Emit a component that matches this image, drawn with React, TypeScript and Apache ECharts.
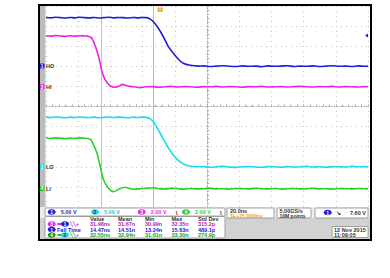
import React, { useEffect, useRef } from "react";
import * as echarts from "echarts";

// time in ns relative to screen center, value in vertical divisions relative to center
const CH1_HO: number[][] = [
  [-100, 4.43], [-97, 4.41], [-94, 4.44], [-91, 4.42], [-88, 4.4], [-85, 4.43], [-82, 4.41], [-79, 4.44],
  [-76, 4.42], [-73, 4.41], [-70, 4.43], [-67, 4.4], [-64, 4.42], [-61, 4.44], [-58, 4.41], [-55, 4.43],
  [-52, 4.42], [-49, 4.4], [-46, 4.43], [-43, 4.41], [-40, 4.43], [-37.5, 4.42],
  [-35.5, 4.36], [-33.3, 4.22], [-30.2, 3.89], [-27.1, 3.47], [-24.0, 2.98], [-20.9, 2.65], [-17.8, 2.35],
  [-14.7, 2.15], [-10.5, 2.05], [-5.4, 2.01],
  [-2, 2.02], [2, 1.99], [6, 2.01], [10, 2.03], [14, 2.0], [18, 1.99], [22, 2.02], [26, 2.0], [30, 2.01],
  [34, 1.98], [38, 2.02], [42, 2.0], [46, 2.01], [50, 2.03], [54, 1.99], [58, 2.01], [62, 2.0], [66, 2.02],
  [70, 1.99], [74, 2.01], [78, 2.03], [82, 2.0], [86, 2.01], [90, 1.99], [94, 2.02], [98, 2.0], [100, 2.01],
];
const CH3_HI: number[][] = [
  [-100, 3.52], [-97, 3.5], [-94, 3.53], [-91, 3.51], [-88, 3.49], [-85, 3.52], [-82, 3.5], [-79, 3.52],
  [-76, 3.51], [-74, 3.5],
  [-72, 3.44], [-70.4, 3.22], [-67.3, 2.48], [-65.2, 1.73], [-63.2, 1.32], [-60.1, 1.02], [-57.0, 0.96],
  [-54.5, 1.02], [-52.8, 1.1], [-50.5, 1.05], [-47.7, 1.0], [-44.5, 0.97], [-41.5, 0.94],
  [-38, 0.98], [-34, 0.99], [-30, 0.96], [-26, 0.98], [-22, 1.0], [-18, 0.97], [-14, 0.99], [-10, 0.98],
  [-6, 0.96], [-2, 0.99], [2, 0.98], [6, 1.0], [10, 0.97], [14, 0.99], [18, 0.98], [22, 0.96], [26, 0.99],
  [30, 0.98], [34, 1.0], [38, 0.97], [42, 0.98], [46, 0.99], [50, 0.97], [54, 0.99], [58, 1.0], [62, 0.98],
  [66, 0.97], [70, 0.99], [74, 0.98], [78, 1.0], [82, 0.97], [86, 0.99], [90, 0.98], [94, 0.97], [98, 0.99], [100, 0.98],
];
const CH2_LO: number[][] = [
  [-100, -0.53], [-97, -0.55], [-94, -0.52], [-91, -0.54], [-88, -0.56], [-85, -0.53], [-82, -0.55], [-79, -0.52],
  [-76, -0.54], [-73, -0.55], [-70, -0.53], [-67, -0.56], [-64, -0.54], [-61, -0.52], [-58, -0.55], [-55, -0.53],
  [-52, -0.54], [-49, -0.56], [-46, -0.53], [-43, -0.55], [-40, -0.53], [-37.5, -0.54],
  [-35.5, -0.6], [-33.3, -0.76], [-29.1, -1.33], [-25.0, -1.92], [-20.9, -2.41], [-16.7, -2.75], [-11.6, -2.95],
  [-5.4, -3.0],
  [-2, -2.99], [2, -3.02], [6, -3.0], [10, -2.98], [14, -3.01], [18, -3.03], [22, -3.0], [26, -2.99], [30, -3.01],
  [34, -3.02], [38, -2.99], [42, -3.0], [46, -3.02], [50, -2.99], [54, -3.01], [58, -3.0], [62, -2.98], [66, -3.01],
  [70, -3.0], [74, -3.02], [78, -2.99], [82, -3.0], [86, -3.01], [90, -2.98], [94, -3.0], [98, -2.99], [100, -3.0],
];
const CH4_LI: number[][] = [
  [-100, -1.57], [-97, -1.59], [-94, -1.56], [-91, -1.58], [-88, -1.6], [-85, -1.57], [-82, -1.59], [-79, -1.56],
  [-76, -1.58], [-74, -1.59],
  [-72.5, -1.64], [-71.4, -1.75], [-68.3, -2.33], [-66.3, -2.99], [-64.2, -3.66], [-61.1, -4.07], [-58.0, -4.24],
  [-54.9, -4.12], [-50.8, -4.02], [-48, -4.08], [-45.6, -4.12], [-40, -4.08], [-36, -4.06], [-33.2, -4.04],
  [-30, -4.09], [-26, -4.1], [-22, -4.07], [-18, -4.09], [-14, -4.11], [-10, -4.08], [-6, -4.1], [-2, -4.09],
  [2, -4.07], [6, -4.1], [10, -4.09], [14, -4.11], [18, -4.08], [22, -4.09], [26, -4.1], [30, -4.07], [34, -4.09],
  [38, -4.1], [42, -4.08], [46, -4.11], [50, -4.09], [54, -4.08], [58, -4.1], [62, -4.09], [66, -4.07], [70, -4.1],
  [74, -4.09], [78, -4.11], [82, -4.08], [86, -4.09], [90, -4.1], [94, -4.08], [98, -4.09], [100, -4.1],
];

const CH_COLORS = ["#1e1ed8", "#14dcec", "#ee1eee", "#24d424"];
const CH_NUMS = ["1", "2", "3", "4"];
const CH_SCALES = ["5.00 V", "5.00 V", "2.00 V", "2.00 V"];
const CH_LABELS = ["HO", "LO", "HI", "LI"];
const CH_OFFSETS = [2.01, -3.0, 0.98, -4.09];
const CURSORS = [-65.8, -33.6];
const TRIGGER_TIME = -29.1;
const TRIGGER_LEVEL = 3.53;

const MEAS_HEADERS = ["Value", "Mean", "Min", "Max", "Std Dev"];
const MEAS_ROWS = [
  ["31.98ns", "31.67n", "30.99n", "32.35n", "315.2p"],
  ["14.47ns", "14.51n", "13.24n", "15.63n", "489.1p"],
  ["32.55ns", "32.94n", "31.61n", "33.30n", "274.9p"],
];
const MEAS_COLORS = ["#c020c0", "#2020d8", "#20a020"];

const FONT = "Liberation Sans, Arial, sans-serif";

function txt(text: string, x: number, y: number, fill: string, size = 6, weight = "bold", align = "left") {
  return {
    type: "text",
    x,
    y,
    z: 20,
    style: { text, fill, fontSize: size, fontFamily: FONT, fontWeight: weight, verticalAlign: "middle", align },
  };
}
function badge(num: string, cx: number, cy: number, color: string, textColor = "#fff") {
  return [
    { type: "ellipse", z: 20, shape: { cx, cy, rx: 4, ry: 2.8 }, style: { fill: color } },
    txt(num, cx, cy + 0.3, textColor, 5, "bold", "center"),
  ];
}

export default function App() {
  const ref = useRef<HTMLDivElement>(null);
  useEffect(() => {
    document.body.style.margin = "0";
    const chart = echarts.init(ref.current!, null, { renderer: "svg" });
    const series = [CH1_HO, CH2_LO, CH3_HI, CH4_LI].map((d, i) => ({
      type: "line",
      data: d,
      showSymbol: false,
      smooth: 0.3,
      lineStyle: { color: CH_COLORS[i], width: 1.6 },
      z: 5,
      markLine:
        i === 0
          ? {
              silent: true,
              symbol: "none",
              label: { show: false },
              animation: false,
              data: [
                { xAxis: CURSORS[0], lineStyle: { color: "#eaa8ea", width: 1, type: "solid" } },
                { xAxis: CURSORS[1], lineStyle: { color: "#b4b4f4", width: 1, type: "solid" } },
              ],
            }
          : undefined,
    }));
    const axisStyle = { color: "#a8a8a8", width: 1, type: [1, 2] as any };
    chart.setOption({
      animation: false,
      backgroundColor: "#ffffff",
      grid: { left: 46, top: 6, width: 322, height: 201, containLabel: false },
      xAxis: {
        type: "value",
        min: -100,
        max: 100,
        interval: 20,
        axisLabel: { show: false },
        axisLine: { show: true, onZero: true, lineStyle: axisStyle },
        axisTick: { show: true, inside: true, length: 2, lineStyle: { color: "#a8a8a8" } },
        minorTick: { show: true, splitNumber: 5, length: 2, lineStyle: { color: "#a8a8a8" } },
        splitLine: { show: true, lineStyle: { color: "#c4c4c4", type: [1, 4] } },
      },
      yAxis: {
        type: "value",
        min: -5,
        max: 5,
        interval: 1,
        axisLabel: { show: false },
        axisLine: { show: true, onZero: true, lineStyle: axisStyle },
        axisTick: { show: true, inside: true, length: 2, lineStyle: { color: "#a8a8a8" } },
        minorTick: { show: true, splitNumber: 5, length: 2, lineStyle: { color: "#a8a8a8" } },
        splitLine: { show: true, lineStyle: { color: "#c4c4c4", type: [1, 4] } },
      },
      series,
    });

    const px = (t: number, v: number) => chart.convertToPixel({ gridIndex: 0 }, [t, v]) as number[];
    const g: any[] = [];
    // bottom panel
    g.push({ type: "rect", z: 10, shape: { x: 40, y: 207, width: 330, height: 33 }, style: { fill: "#d2d2d2" } });
    g.push({ type: "rect", z: 10, shape: { x: 40, y: 207, width: 330, height: 11 }, style: { fill: "#ececec" } });
    g.push({ type: "rect", z: 10, shape: { x: 40, y: 6, width: 5.5, height: 201 }, style: { fill: "#bcbcbc" } });
    // channel box
    g.push({ type: "rect", z: 11, shape: { x: 45, y: 208, width: 180, height: 8, r: 1 }, style: { fill: "#fff", stroke: "#8a8a8a", lineWidth: 0.8 } });
    const chX = [51.7, 95, 141.7, 186];
    chX.forEach((x, i) => {
      g.push(...badge(CH_NUMS[i], x, 212, CH_COLORS[i], i === 1 ? "#333" : "#fff"));
      g.push(txt(CH_SCALES[i], x + 9, 212.2, CH_COLORS[i] === "#14dcec" ? "#10c8d8" : CH_COLORS[i], 5.5));
      if (i >= 2) g.push(txt("ʅ", x + 34, 212, "#444", 5.5));
    });
    // measurement box
    g.push({ type: "rect", z: 11, shape: { x: 45, y: 216.5, width: 180, height: 21.5, r: 1 }, style: { fill: "#fff", stroke: "#8a8a8a", lineWidth: 0.8 } });
    const colX = [90, 118, 145, 171.5, 198];
    MEAS_HEADERS.forEach((h, i) => g.push(txt(h, colX[i], 219, "#333", 5.5)));
    const rowY = [224, 229.5, 235];
    MEAS_ROWS.forEach((row, r) => {
      row.forEach((v, i) => g.push(txt(v, colX[i], rowY[r], MEAS_COLORS[r], 5.5)));
    });
    g.push(...badge("3", 51.7, rowY[0], CH_COLORS[2]));
    g.push(txt("⇒", 57, rowY[0], "#c020c0", 5.5));
    g.push(...badge("1", 65, rowY[0], CH_COLORS[0]));
    g.push(txt("╲╲+", 70, rowY[0], "#c020c0", 5));
    g.push(...badge("1", 51.7, rowY[1], CH_COLORS[0]));
    g.push(txt("Fall Time", 57, rowY[1], "#2020d8", 5.5));
    g.push(...badge("4", 51.7, rowY[2], "#1f9a1f"));
    g.push(txt("⇒", 57, rowY[2], "#20a020", 5.5));
    g.push(...badge("2", 65, rowY[2], CH_COLORS[1], "#333"));
    g.push(txt("╲╲+", 70, rowY[2], "#20a020", 5));
    // time box
    g.push({ type: "rect", z: 11, shape: { x: 227, y: 208, width: 47, height: 10, r: 1 }, style: { fill: "#fff", stroke: "#8a8a8a", lineWidth: 0.8 } });
    g.push(txt("20.0ns", 230, 211, "#333", 5.5));
    g.push(txt("T▸+25.0000ns", 230, 215.5, "#f0a020", 5));
    g.push({ type: "rect", z: 11, shape: { x: 277, y: 208, width: 34, height: 10, r: 1 }, style: { fill: "#fff", stroke: "#8a8a8a", lineWidth: 0.8 } });
    g.push(txt("5.00GS/s", 279.5, 211, "#333", 5.5));
    g.push(txt("10M points", 279.5, 215.5, "#333", 5));
    g.push({ type: "rect", z: 11, shape: { x: 315, y: 208, width: 53, height: 10, r: 1 }, style: { fill: "#fff", stroke: "#8a8a8a", lineWidth: 0.8 } });
    g.push(...badge("1", 327.7, 212.5, CH_COLORS[0]));
    g.push(txt("↘", 336, 212.5, "#333", 5.5));
    g.push(txt("7.60 V", 350, 212.5, "#333", 5.5));
    // date box
    g.push({ type: "rect", z: 11, shape: { x: 332, y: 226.5, width: 36, height: 11, r: 1 }, style: { fill: "#fff", stroke: "#8a8a8a", lineWidth: 0.8 } });
    g.push(txt("12 Nov 2015", 334, 229.5, "#333", 5.5));
    g.push(txt("11:09:05", 334, 234.8, "#333", 5.5));
    // channel ground markers
    CH_OFFSETS.forEach((o, i) => {
      const p = px(-100, o);
      g.push({ type: "rect", z: 20, shape: { x: 39.5, y: p[1] - 2.5, width: 5, height: 5, r: 1 }, style: { fill: CH_COLORS[i] } });
      g.push(txt(CH_NUMS[i], 42, p[1] + 0.2, "#fff", 4.5, "bold", "center"));
      g.push(txt(CH_LABELS[i], 46, p[1] + 0.2, "#333", 5.5));
    });
    // trigger position marker
    const tp = px(TRIGGER_TIME, 5);
    g.push({ type: "rect", z: 20, shape: { x: tp[0] - 2.5, y: 7, width: 5, height: 5, r: 1 }, style: { fill: "#f4a428" } });
    g.push(txt("T", tp[0], 9.7, "#fff", 4.5, "bold", "center"));
    // trigger level marker
    const tl = px(100, TRIGGER_LEVEL);
    g.push({ type: "polygon", z: 20, shape: { points: [[tl[0] - 3, tl[1]], [tl[0], tl[1] - 2], [tl[0], tl[1] + 2]] }, style: { fill: CH_COLORS[0] } });
    // frame
    g.push({ type: "rect", z: 30, shape: { x: 39, y: 5, width: 332, height: 235 }, style: { fill: "none", stroke: "#000", lineWidth: 2 } });
    chart.setOption({ graphic: g });
    return () => chart.dispose();
  }, []);
  return <div ref={ref} style={{ width: 390, height: 278 }} />;
}
